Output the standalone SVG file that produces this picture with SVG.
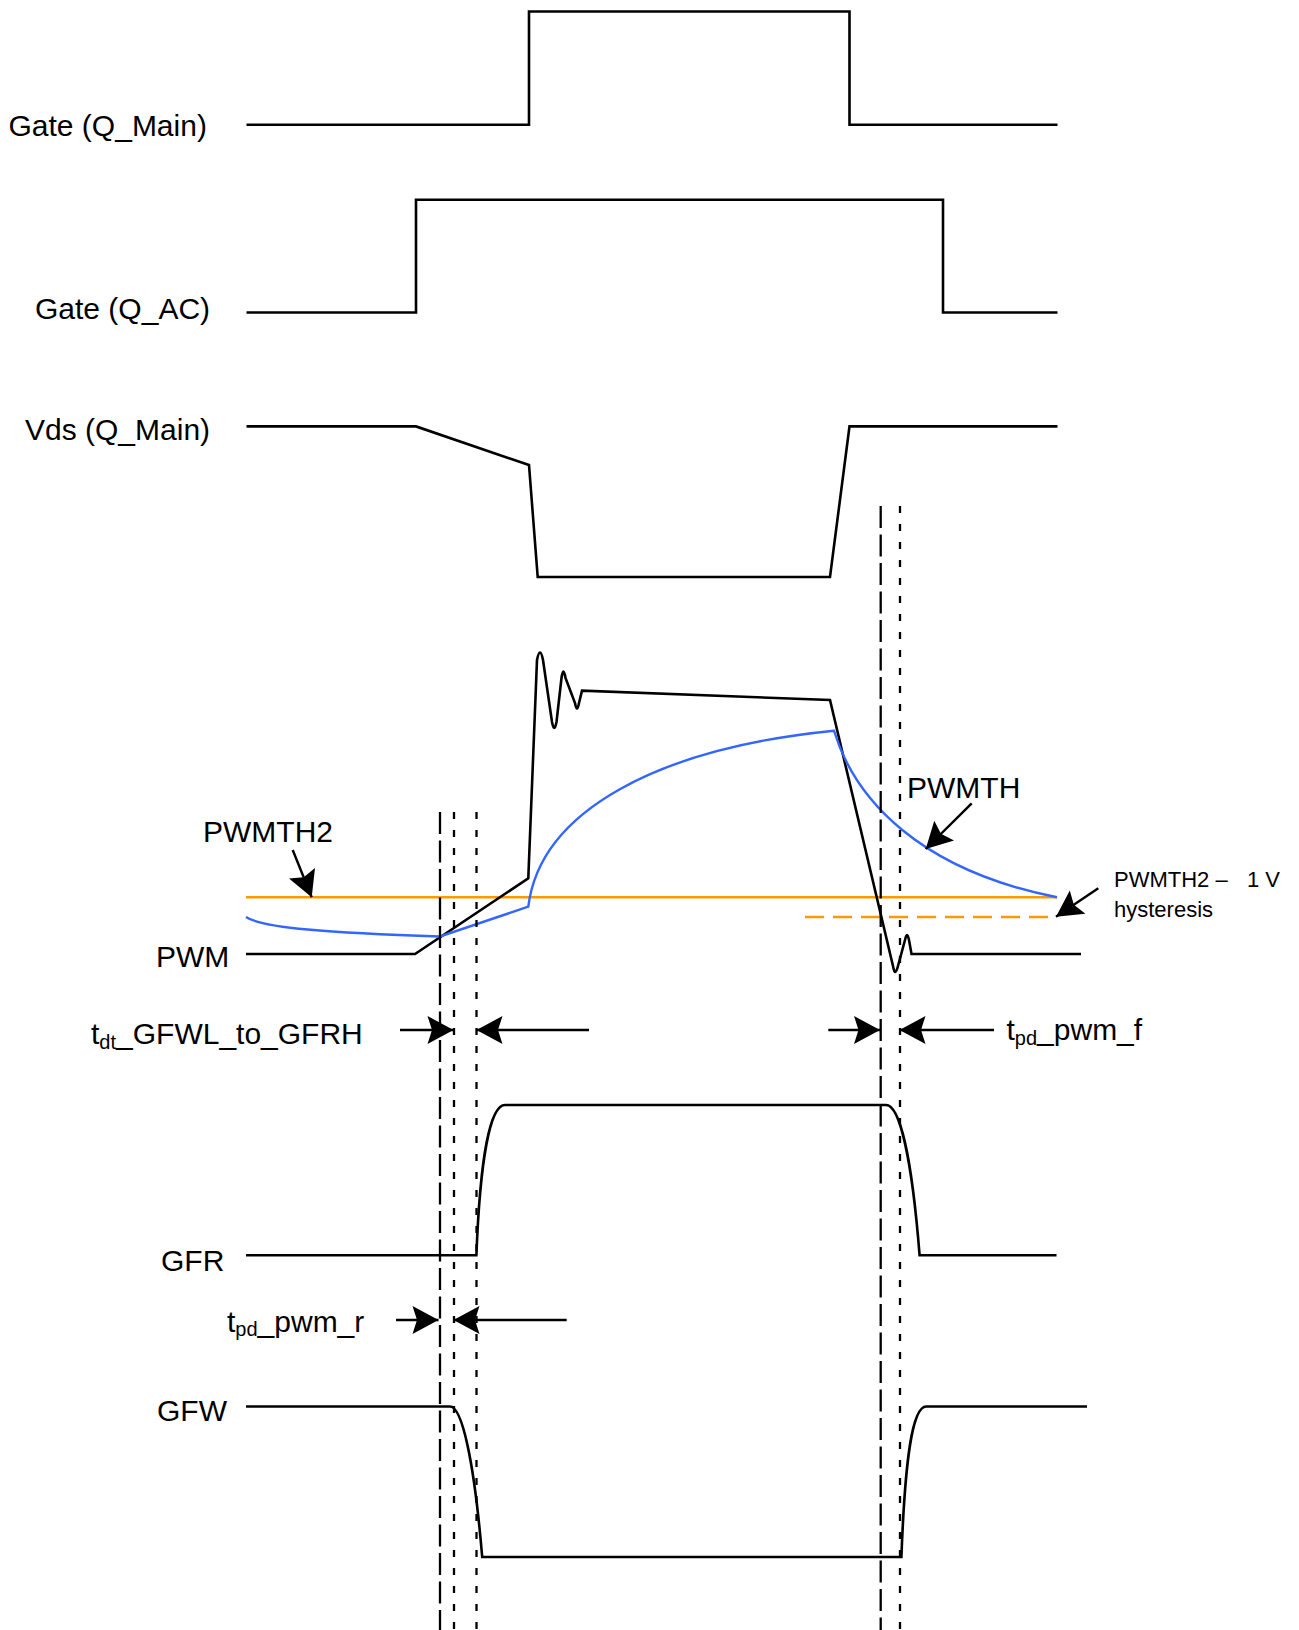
<svg xmlns="http://www.w3.org/2000/svg" width="1299" height="1630" viewBox="0 0 1299 1630">
<style>
text{font-family:"Liberation Sans",Arial,sans-serif;fill:#000}
.lbl{font-size:30px}
.sm{font-size:22px}
.sub{font-size:20px}
.sig{fill:none;stroke:#000;stroke-width:2.6;stroke-linejoin:miter}
.blue{fill:none;stroke:#3366FF;stroke-width:2.4}
.org{fill:none;stroke:#FF9900;stroke-width:2.6}
.orgd{fill:none;stroke:#FF9900;stroke-width:2.6;stroke-dasharray:19 9}
.ld{fill:none;stroke:#000;stroke-width:2.3;stroke-dasharray:22 6.5}
.dd{fill:none;stroke:#000;stroke-width:2.3;stroke-dasharray:7 11}
.arr{fill:none;stroke:#000;stroke-width:2.4;marker-end:url(#ah)}
</style>
<defs>
<marker id="ah" markerUnits="userSpaceOnUse" markerWidth="28" markerHeight="30" viewBox="0 0 28 30" refX="27" refY="15" orient="auto">
<path d="M27,15 L1,1 L5.5,15 L1,29 Z" fill="#000"/>
</marker>
</defs>
<rect width="1299" height="1630" fill="#fff"/>

<g id="gate-main">
<path class="sig" d="M246.5,124.8 L529,124.8 L529,11.5 L849.5,11.5 L849.5,124.8 L1057.5,124.8"/>
<text class="lbl" x="8.5" y="135.5">Gate (Q_Main)</text>
</g>
<g id="gate-ac">
<path class="sig" d="M246.5,312.5 L416,312.5 L416,199.7 L943,199.7 L943,312.5 L1057.5,312.5"/>
<text class="lbl" x="35" y="319">Gate (Q_AC)</text>
</g>
<g id="vds-main">
<path class="sig" d="M246.5,426.4 L416,426.4 L529,465 L537.7,577 L830,577 L849.5,426.4 L1057.5,426.4"/>
<text class="lbl" x="25" y="440">Vds (Q_Main)</text>
</g>

<g id="pwm">
<path class="org" d="M246,897.3 L1057,897.3"/>
<path class="orgd" d="M805,917 L1057,917"/>
<path class="sig" d="M246,954 L415,954 L528.3,878.3 L537,660 Q540,645 543,660 L552,722 Q554.3,734 556.5,722 L561.5,678 Q563.3,665 565.5,678 L575,703 Q577,714 579,703 L582,690.7 L830,700 L893,966 Q895,978 898,966 L905,940 Q907,930 909,940 L911.5,954 L1081,954"/>
<path class="blue" d="M246,917 C262,928 330,933 440,936.5 L528.3,906.7 C540,810 660,748 834,730.7 C855,800 920,870 1057,897.3"/>
<text class="lbl" x="156" y="967">PWM</text>
<text class="lbl" x="203" y="842">PWMTH2</text>
<text class="lbl" x="907" y="798">PWMTH</text>
<text class="sm" x="1114" y="886.7">PWMTH2 –<tspan x="1247">1 V</tspan></text>
<text class="sm" x="1114" y="916.7">hysteresis</text>
</g>

<g id="gfr">
<path class="sig" d="M246,1255.3 L476.4,1255.3 C480,1160 490,1105 505,1105 L886,1105 C900,1105 912,1160 919.6,1255.3 L1056.5,1255.3"/>
<text class="lbl" x="161" y="1270.5">GFR</text>
</g>
<g id="gfw">
<path class="sig" d="M246,1406.5 L450,1406.5 C462,1406.5 474,1460 482.2,1557 L901.4,1557 C905,1460 912,1406.5 926.3,1406.5 L1087,1406.5"/>
<text class="lbl" x="157" y="1421">GFW</text>
</g>

<g id="timing-labels">
<text class="lbl" x="91" y="1044">t<tspan class="sub" dy="5">dt</tspan><tspan dy="-5">_GFWL_to_GFRH</tspan></text>
<text class="lbl" x="1006.5" y="1040">t<tspan class="sub" dy="5">pd</tspan><tspan dy="-5">_pwm_f</tspan></text>
<text class="lbl" x="227" y="1331.5">t<tspan class="sub" dy="4">pd</tspan><tspan dy="-4">_pwm_r</tspan></text>
</g>

<g id="connectors">
<path class="ld" d="M440,812 L440,1630"/>
<path class="dd" d="M454,812 L454,1630"/>
<path class="dd" d="M476.5,812 L476.5,1630"/>
<path class="ld" d="M880.7,506 L880.7,1630"/>
<path class="dd" d="M900,506 L900,1630"/>
<path class="arr" d="M292.7,850 L311.7,897.3"/>
<path class="arr" d="M971.7,803.3 L925.7,849"/>
<path class="arr" d="M1098.3,888.3 L1056,916.7"/>
<path class="arr" d="M400,1030 L453.5,1030"/>
<path class="arr" d="M589,1030 L476.5,1030"/>
<path class="arr" d="M828.3,1030 L880,1030"/>
<path class="arr" d="M994,1030 L899.5,1030"/>
<path class="arr" d="M396,1320 L438.5,1320"/>
<path class="arr" d="M566.7,1320 L453.5,1320"/>
</g>
</svg>
